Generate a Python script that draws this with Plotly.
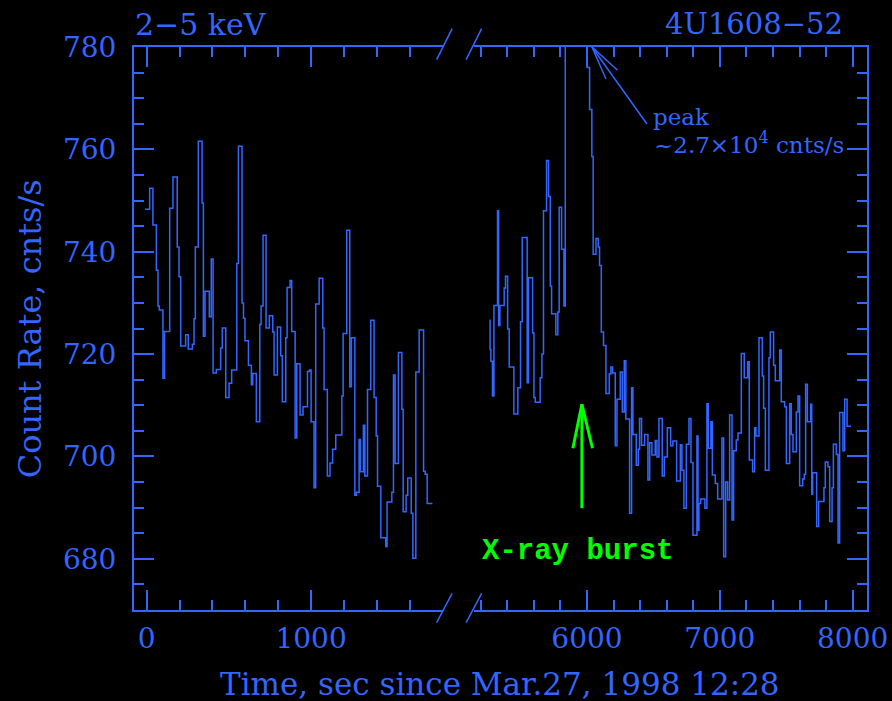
import plotly.graph_objects as go

# ---------------- data ----------------
# first observation segment: bin start times (s) and count rates (cnts/s)
t_seg1 = [-10, 18, 38, 59, 69, 77, 99, 109, 140, 160, 186, 197, 207, 237, 253, 278,
          288, 296, 314, 337, 345, 355, 381, 393, 404, 424, 450, 460, 481, 501, 517,
          548, 558, 580, 589, 598, 619, 637, 645, 667, 688, 696, 708, 726, 746, 767,
          775, 795, 815, 825, 846, 854, 872, 882, 903, 913, 933, 951, 978, 990, 1000,
          1018, 1028, 1049, 1071, 1079, 1099, 1115, 1131, 1150, 1187, 1195, 1217,
          1235, 1245, 1266, 1276, 1292, 1300, 1318, 1327, 1343, 1363, 1383, 1396,
          1404, 1424, 1454, 1462, 1491, 1501, 1511, 1531, 1552, 1560, 1578, 1588,
          1609, 1619, 1637, 1657, 1684, 1694, 1706, 1738]
rate_seg1 = [748.3, 752.4, 745.2, 736.4, 729.4, 728.6, 715.3, 724.4, 748.5, 754.6,
             740.9, 735.1, 721.6, 723.8, 721.0, 721.9, 726.9, 740.9, 761.6, 749.5,
             723.5, 732.3, 727.3, 738.6, 716.3, 717.0, 721.2, 725.1, 711.5, 714.3,
             716.9, 737.7, 760.6, 730.0, 727.0, 722.6, 717.8, 714.0, 716.2, 706.8,
             725.8, 729.4, 743.2, 725.1, 727.5, 724.3, 715.9, 725.3, 719.7, 710.7,
             723.2, 733.0, 734.4, 724.4, 703.6, 718.1, 708.1, 709.7, 716.6, 716.9,
             706.8, 693.9, 729.8, 734.8, 725.1, 713.1, 696.2, 698.7, 701.4, 704.2,
             711.8, 724.0, 744.2, 713.6, 723.2, 692.4, 693.0, 703.3, 697.0, 706.1,
             696.2, 713.1, 726.6, 711.5, 704.0, 694.2, 684.1, 682.4, 691.1, 693.0,
             715.9, 698.6, 720.3, 709.2, 689.2, 692.4, 695.8, 688.9, 680.1, 716.5,
             724.7, 697.1, 696.5, 690.8, 690.8]

# second observation segment (contains the X-ray burst; peak ~2.7e4 cnts/s)
t_seg2 = [5267, 5271, 5277, 5289, 5300, 5327, 5335, 5345, 5377, 5387, 5403, 5415,
          5450, 5480, 5500, 5513, 5550, 5560, 5591, 5601, 5611, 5648, 5661, 5673,
          5696, 5711, 5724, 5734, 5766, 5781, 5791, 5809, 5827, 5837, 5860, 5900,
          5940, 5975, 6002, 6020, 6037, 6047, 6068, 6085, 6095, 6108, 6125, 6143,
          6168, 6180, 6193, 6213, 6226, 6251, 6266, 6281, 6293, 6321, 6336, 6346,
          6371, 6386, 6396, 6411, 6434, 6459, 6472, 6489, 6514, 6527, 6542, 6567,
          6582, 6605, 6630, 6647, 6675, 6703, 6715, 6730, 6748, 6768, 6783, 6798,
          6828, 6836, 6843, 6856, 6888, 6903, 6913, 6933, 6944, 6966, 6984, 7016,
          7029, 7044, 7059, 7074, 7092, 7104, 7124, 7137, 7162, 7184, 7210, 7222,
          7247, 7262, 7272, 7295, 7320, 7330, 7343, 7370, 7380, 7405, 7418, 7451,
          7463, 7488, 7501, 7526, 7538, 7551, 7576, 7589, 7601, 7624, 7636, 7646,
          7659, 7684, 7692, 7699, 7729, 7744, 7784, 7794, 7814, 7827, 7845, 7855,
          7877, 7890, 7902, 7927, 7940, 7958, 7988]
rate_seg2 = [726.6, 720.9, 718.6, 711.8, 729.5, 748.0, 725.6, 729.5, 732.9, 735.2,
             724.9, 717.5, 708.3, 713.4, 726.3, 742.8, 714.4, 734.9, 724.1, 711.5,
             710.6, 715.4, 720.0, 748.0, 757.8, 750.8, 733.3, 727.9, 723.8, 728.2,
             748.7, 740.5, 729.4, 1500, 27000, 9000, 3000, 1200, 776.0, 767.8,
             758.6, 739.5, 742.6, 740.9, 737.3, 724.3, 721.7, 712.3, 716.1, 717.5,
             716.3, 702.1, 711.2, 716.5, 708.7, 718.7, 707.3, 688.9, 713.4, 704.3,
             698.3, 701.4, 707.4, 702.2, 704.3, 695.4, 702.7, 700.3, 703.1, 699.9,
             707.4, 696.2, 699.9, 705.6, 702.1, 703.0, 695.2, 702.3, 697.3, 689.9,
             702.4, 707.4, 698.8, 684.6, 704.0, 685.6, 690.8, 691.7, 689.9, 710.3,
             701.6, 706.8, 696.4, 694.7, 691.7, 703.6, 680.4, 695.0, 691.5, 708.1,
             687.6, 701.1, 703.2, 704.6, 720.1, 715.4, 718.5, 699.3, 697.0, 705.6,
             704.0, 723.2, 715.7, 709.4, 697.3, 719.3, 724.3, 717.8, 714.8, 720.8,
             710.7, 709.7, 698.6, 710.3, 704.3, 700.9, 708.7, 711.8, 694.3, 695.6,
             696.5, 714.1, 706.8, 710.2, 692.6, 696.8, 686.3, 691.2, 693.9, 698.9,
             698.0, 687.3, 693.9, 702.4, 700.4, 683.1, 708.6, 701.1, 711.2, 705.9,
             705.9]

y_range = [670, 780]
x1_range = [-77, 1803]
x2_range = [5151, 8108]
y_ticks = [680, 700, 720, 740, 760, 780]

# annotation anchor points (data coordinates on the second segment)
peak_arrow_tip = (6038, 780)
burst_arrow_tip = (5962, 710.2)
burst_label_pos = (5931, 681.5)

# ---------------- style ----------------
BLUE = "#3366ff"
GREEN = "#00ff00"
SERIF = "DejaVu Serif"
W, H = 892, 701
ML, MR, MT, MB = 134, 25.3, 46.6, 91.4
PW = W - ML - MR
PH = H - MT - MB
dom1 = [0, (443 - ML) / PW]
dom2 = [(474 - ML) / PW, 1]

fig = go.Figure()
fig.add_trace(go.Scatter(x=t_seg1, y=rate_seg1, mode="lines", line_shape="hv",
                         line=dict(color=BLUE, width=1.5), xaxis="x", yaxis="y",
                         showlegend=False, hoverinfo="skip"))
fig.add_trace(go.Scatter(x=t_seg2, y=rate_seg2, mode="lines", line_shape="hv",
                         line=dict(color=BLUE, width=1.5), xaxis="x2", yaxis="y2",
                         showlegend=False, hoverinfo="skip"))

axis_common = dict(showline=True, linecolor=BLUE, linewidth=2, ticks="inside",
                   ticklen=20, tickwidth=2, tickcolor=BLUE, showgrid=False,
                   zeroline=False, automargin=False,
                   tickfont=dict(family=SERIF, size=28, color=BLUE))
xminor = dict(dtick=200, ticklen=10, tickwidth=2, tickcolor=BLUE, ticks="inside", showgrid=False)
yminor = dict(dtick=5, ticklen=10, tickwidth=2, tickcolor=BLUE, ticks="inside", showgrid=False)

fig.update_layout(
    width=W, height=H, autosize=False,
    margin=dict(l=ML, r=MR, t=MT, b=MB, pad=0, autoexpand=False),
    paper_bgcolor="black", plot_bgcolor="black",
    xaxis=dict(domain=dom1, range=x1_range, anchor="y", mirror="ticks", dtick=1000,
               tick0=0, minor=xminor, ticklabelstandoff=2, **axis_common),
    xaxis2=dict(domain=dom2, range=x2_range, anchor="y2", mirror="ticks", dtick=1000,
                tick0=0, minor=xminor, ticklabelstandoff=2, **axis_common),
    yaxis=dict(domain=[0, 1], range=y_range, anchor="x", tickvals=y_ticks,
               minor=yminor, ticklabelstandoff=10, **axis_common),
    yaxis2=dict(domain=[0, 1], range=y_range, anchor="x2", side="right",
                tickvals=y_ticks, minor=yminor, showticklabels=False, **axis_common),
)

def px_x(p):
    return (p - ML) / PW

def px_y(p):
    return (H - MB - p) / PH

ann = []
ann.append(dict(text="2−5 keV", x=px_x(133), y=px_y(24), xref="paper", yref="paper",
                xanchor="left", yanchor="middle", showarrow=False,
                font=dict(family=SERIF, size=30, color=BLUE)))
ann.append(dict(text="4U1608−52", x=px_x(845), y=px_y(24), xref="paper", yref="paper",
                xanchor="right", yanchor="middle", showarrow=False,
                font=dict(family=SERIF, size=29, color=BLUE)))
ann.append(dict(text="Time, sec since Mar.27, 1998 12:28", x=px_x(500), y=px_y(684),
                xref="paper", yref="paper", xanchor="center", yanchor="middle",
                showarrow=False, font=dict(family=SERIF, size=31, color=BLUE)))
ann.append(dict(text="Count Rate, cnts/s", x=px_x(30), y=px_y(328), textangle=-90,
                xref="paper", yref="paper", xanchor="center", yanchor="middle",
                showarrow=False, font=dict(family=SERIF, size=32, color=BLUE)))
ann.append(dict(text="peak", x=px_x(651), y=px_y(117), xref="paper", yref="paper",
                xanchor="left", yanchor="middle", showarrow=False,
                font=dict(family=SERIF, size=23, color=BLUE)))
ann.append(dict(text="~2.7×10<sup>4</sup> cnts/s", x=px_x(846), y=px_y(143),
                xref="paper", yref="paper", xanchor="right", yanchor="middle",
                showarrow=False, font=dict(family=SERIF, size=23, color=BLUE)))
ann.append(dict(text="<b>X-ray burst</b>", x=burst_label_pos[0], y=burst_label_pos[1],
                xref="x2", yref="y2", xanchor="center", yanchor="middle", showarrow=False,
                font=dict(family="Liberation Mono", size=29, color=GREEN)))
fig.update_layout(annotations=ann)

shapes = []
# axis-break marks
for xref, anchor in [("x domain", 1), ("x2 domain", 0)]:
    for yanc, y0, y1 in [(1, -12.7, 18.3), (0, -12.7, 16.7)]:
        shapes.append(dict(type="line", xref=xref, yref="y domain",
                           xsizemode="pixel", ysizemode="pixel",
                           xanchor=anchor, yanchor=yanc,
                           x0=-6.5 if anchor == 1 else -8, x1=9 if anchor == 1 else 7.5,
                           y0=y0, y1=y1, line=dict(color=BLUE, width=1.5)))

def arrow(tip, offsets, color, width):
    for dx, dy in offsets:
        shapes.append(dict(type="line", xref="x2", yref="y2",
                           xsizemode="pixel", ysizemode="pixel",
                           xanchor=tip[0], yanchor=tip[1],
                           x0=0, y0=0, x1=dx, y1=dy,
                           line=dict(color=color, width=width)))

# open arrow pointing at the off-scale burst peak
arrow(peak_arrow_tip, [(55, -77), (14, -32), (25.6, -23.3)], BLUE, 1.5)
# X-ray burst arrow
arrow(burst_arrow_tip, [(0, -104), (-9, -44), (10.6, -44)], GREEN, 3)
fig.update_layout(shapes=shapes)

fig.write_html("out.html",
               config={"displayModeBar": False, "responsive": False},
               post_script="document.documentElement.style.margin='0px';"
                           "document.body.style.margin='0px';"
                           "document.documentElement.style.overflow='hidden';"
                           "document.body.style.overflow='hidden';")
